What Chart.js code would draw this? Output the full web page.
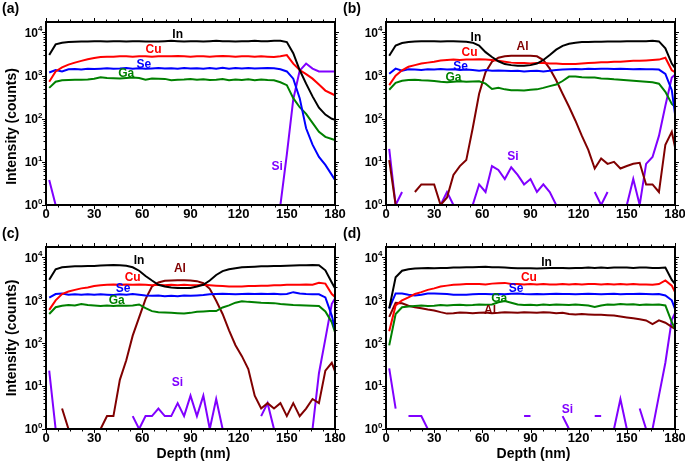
<!DOCTYPE html>
<html>
<head>
<meta charset="utf-8">
<script src="https://cdn.jsdelivr.net/npm/chart.js@4.4.1/dist/chart.umd.min.js"></script>
<style>
  body { margin: 0; background: #fff; }
  #wrap { position: relative; width: 685px; height: 466px; overflow: hidden; }
  #wrap canvas { position: absolute; }
</style>
</head>
<body>
<div id="wrap">
  <canvas id="pa" width="352" height="225" style="left:0;top:0"></canvas>
  <canvas id="pb" width="343" height="225" style="left:342px;top:0"></canvas>
  <canvas id="pc" width="352" height="241" style="left:0;top:225px"></canvas>
  <canvas id="pd" width="343" height="241" style="left:342px;top:225px"></canvas>
</div>
<script>
/* ---- data (counts vs depth in nm) ---- */
const _ = null;   // zero counts -> gap on the log axis

const depth = [2,6,10,14,18,22,26,30,34,38,
  42,46,50,54,58,62,66,70,74,78,
  82,86,90,94,98,102,106,110,114,118,
  122,126,130,134,138,142,146,150,154,158,
  162,166,170,174,178,180];

const xTicks = [0, 30, 60, 90, 120, 150, 180];
const yDecades = [0, 1, 2, 3, 4];

// (a)
const aIn = [3000,5300,5800,6000,6100,6200,6200,6300,6300,6200,
  6300,6300,6200,6300,6300,6200,6200,6200,6300,6400,
  6300,6200,6300,6300,6200,6300,6400,6300,6300,6200,
  6300,6300,6400,6300,6300,6400,6400,6000,3300,1350,
  650,330,180,125,100,95];
const aCu = [720,1250,1550,1800,2000,2200,2400,2550,2700,2750,
  2750,2800,2800,2750,2800,2800,2750,2800,2800,2800,
  2850,2800,2750,2800,2800,2750,2800,2850,2800,2750,
  2800,2800,2750,2800,2750,2700,2800,3000,1900,1350,
  1080,850,620,450,380,350];
const aSe = [1180,1350,1250,1400,1420,1380,1450,1420,1450,1480,
  1450,1460,1500,1450,1480,1450,1470,1500,1460,1480,
  1450,1500,1460,1480,1450,1500,1450,1520,1450,1500,
  1470,1500,1460,1480,1500,1480,1400,1250,850,300,
  60,25,13,8.5,5,3.8];
const aGa = [520,720,780,790,800,800,810,850,920,880,
  870,860,880,900,880,800,860,850,840,780,
  800,810,830,800,820,790,800,830,780,810,
  790,820,780,810,790,780,700,600,300,185,
  130,80,50,38,34,32];
const aSi = [3.8,1,_,_,_,_,_,_,_,_,
  _,_,_,_,_,_,_,_,_,_,
  _,_,_,_,_,_,_,_,_,_,
  _,_,_,_,_,_,1,15,280,1300,
  1900,1450,1250,1250,1250,1250];

// (b)
const bIn = [2900,5000,5700,6000,6200,6300,6300,6300,6200,6300,
  6300,6200,6100,5800,5000,3500,2700,2150,1850,1750,
  1700,1700,1750,1900,2300,3000,4000,4900,5500,5800,
  6000,6000,6100,6100,6200,6200,6200,6300,6300,6300,
  6300,6400,6200,4300,1900,1500];
const bCu = [600,1000,1330,1600,1750,1900,2000,2100,2250,2300,
  2350,2300,2350,2350,2400,2350,2300,2200,2100,2000,
  1950,1950,1900,1950,1950,1900,1900,1850,1850,1850,
  1900,1950,2000,2050,2050,2100,2100,2150,2200,2200,
  2250,2300,2350,2600,1330,1200];
const bSe = [1100,1450,1300,1400,1380,1350,1400,1380,1420,1380,
  1400,1350,1380,1350,1300,1350,1300,1320,1300,1280,
  1300,1250,1280,1300,1250,1300,1350,1380,1400,1420,
  1400,1450,1420,1450,1450,1420,1450,1420,1400,1420,
  1400,1400,1380,1100,460,130];
const bGa = [470,680,760,790,800,780,770,750,720,700,
  720,740,720,730,740,650,490,520,480,460,
  460,450,470,480,520,570,620,750,950,950,
  920,900,900,860,850,820,800,780,760,740,
  720,700,650,420,220,190];
const bAl = [11,1,_,_,2,3,3,3,1,1.5,
  5,8,11,60,380,1200,2100,2600,2800,2900,
  2900,2900,2900,2800,2300,1450,780,380,190,90,
  40,19,7,12,9,10,7,8,9,9.5,
  3,3,2,25,50,22];
const bSi = [20,1,2,_,_,_,_,_,1,2,
  1,_,_,1,3,2,8,6.5,4,7.5,
  5,3,4,2,3,2,1,_,_,_,
  _,_,2,1,2,_,_,1,4,1,
  9,13,40,200,900,1050];

// (c)
const cIn = [3000,5300,5900,6100,6200,6200,6300,6300,6500,6600,
  6700,6600,6400,5900,4900,3700,2900,2300,2100,2000,
  1950,1950,1950,2100,2300,2900,3900,4800,5300,5600,
  5900,6000,6100,6200,6200,6300,6300,6400,6500,6600,
  6600,6700,6600,5000,2600,1900];
const cCu = [600,1000,1400,1600,1750,1900,2000,2150,2250,2300,
  2350,2300,2350,2300,2350,2300,2250,2300,2250,2300,
  2250,2300,2250,2250,2300,2250,2200,2150,2100,2100,
  2100,2150,2150,2200,2200,2250,2250,2300,2300,2300,
  2350,2300,2550,2450,1400,1200];
const cSe = [1150,1400,1450,1350,1380,1350,1380,1350,1380,1350,
  1330,1380,1350,1400,1350,1300,1280,1300,1250,1280,
  1250,1300,1280,1300,1330,1380,1400,1420,1400,1380,
  1400,1420,1400,1420,1400,1420,1380,1400,1550,1450,
  1400,1380,1380,1170,440,215];
const cGa = [480,690,750,780,760,820,780,760,740,760,
  740,760,750,760,800,660,560,530,520,510,
  500,490,510,540,550,560,560,680,760,880,
  950,920,900,880,870,860,820,800,780,770,
  760,750,740,550,310,180];
const cAl = [_,_,3,1,1,1,1,1,1,2,
  2,14,40,150,400,1070,2100,2600,2850,2900,
  2950,2950,2900,2800,2500,1850,980,480,200,90,
  50,25,6,3,4,3,4,2,4,2,
  3,5,4,23,35,22];
const cSi = [23,1,_,_,_,_,_,_,_,_,
  _,_,_,2,1,2,2,3,2,2,
  4,2,6,2,6,1,5,1,_,_,
  _,_,_,2,4,1,_,1,1,1,
  1,1,20,126,830,1100];

// (d)
const dIn = [650,3450,4900,5300,5500,5600,5650,5600,5650,5700,
  5800,5800,5900,5900,6000,6100,5900,5900,5800,5700,
  5600,5600,5600,5500,5600,5700,5700,5700,5600,5700,
  5700,5800,5700,5800,5700,5800,5800,5800,5700,5800,
  5800,5700,5700,5800,3000,2400];
const dCu = [190,760,1000,1170,1400,1550,1750,1900,2100,2200,
  2300,2350,2400,2400,2400,2350,2450,2500,2550,2400,
  2400,2350,2400,2350,2400,2350,2350,2400,2350,2400,
  2350,2400,2400,2350,2400,2350,2400,2350,2400,2350,
  2350,2300,2400,2900,2200,1550];
const dSe = [650,1450,1450,1350,1300,1350,1450,1450,1420,1400,
  1350,1350,1350,1380,1400,1400,1380,1400,1380,1420,
  1450,1400,1380,1400,1380,1400,1420,1400,1400,1380,
  1400,1420,1400,1380,1400,1420,1380,1400,1400,1420,
  1400,1380,1400,1300,1000,630];
const dGa = [89,480,690,720,740,760,740,750,780,760,
  780,790,770,780,800,790,800,900,960,880,
  800,780,790,770,800,780,800,790,780,800,
  780,760,700,760,800,790,820,800,810,780,
  800,790,800,760,310,215];
const dAl = [410,870,850,750,690,650,610,580,530,490,
  500,520,510,500,510,520,500,510,530,520,
  510,530,520,510,530,520,500,510,480,470,
  480,470,460,460,450,440,420,400,380,360,
  340,280,340,300,240,215];
const dSi = [26,3,_,2,2,2,1,1,_,_,
  1,1,_,_,_,_,_,1,1,_,
  _,2,2,_,_,_,_,2,1,_,
  _,_,2,2,_,1,5,1,_,3,
  1,1,6,35,350,500];

/* ---- styling ---- */
const COLORS = { In: '#000000', Cu: '#ff0000', Se: '#0000ff', Ga: '#008000', Al: '#800000', Si: '#8000ff' };
const FONT = "'Liberation Sans', Arial, Helvetica, sans-serif";
const Y_MAX = 17500;

const pts = (arr) => depth.map((d, i) => ({ x: d, y: arr[i] }));

// frame, ticks, tick labels, titles and in-plot element labels
const framePlugin = {
  id: 'frame',
  afterDraw(chart, args, o) {
    const { ctx, chartArea: a } = chart;
    const x = chart.scales.x, y = chart.scales.y;
    ctx.save();

    // element labels next to the curves
    ctx.font = 'bold 12px ' + FONT;
    ctx.textAlign = 'center';
    ctx.textBaseline = 'middle';
    o.labels.forEach(([txt, dx, dy]) => {
      ctx.fillStyle = COLORS[txt];
      ctx.fillText(txt, x.getPixelForValue(dx), y.getPixelForValue(dy));
    });

    // box
    ctx.strokeStyle = '#000';
    ctx.lineWidth = 2;
    ctx.strokeRect(a.left, a.top, a.right - a.left, a.bottom - a.top);

    // ticks
    ctx.lineWidth = 1;
    ctx.beginPath();
    for (let v = 0; v <= 180; v += 7.5) {
      const px = Math.round(x.getPixelForValue(v)) + 0.5;
      const len = v % 30 === 0 ? 4 : 2.5;
      ctx.moveTo(px, a.bottom); ctx.lineTo(px, a.bottom + len);
      ctx.moveTo(px, a.top); ctx.lineTo(px, a.top - len);
    }
    yDecades.forEach(e => {
      for (let m = 1; m <= 9; m++) {
        const v = m * Math.pow(10, e);
        if (v > Y_MAX) break;
        const py = Math.round(y.getPixelForValue(v)) + 0.5;
        const len = m === 1 ? 4 : 2.5;
        ctx.moveTo(a.left, py); ctx.lineTo(a.left - len, py);
        ctx.moveTo(a.right, py); ctx.lineTo(a.right + len, py);
      }
    });
    ctx.stroke();

    // tick labels
    ctx.fillStyle = '#000';
    ctx.font = 'bold 13px ' + FONT;
    ctx.textAlign = 'center';
    ctx.textBaseline = 'top';
    xTicks.forEach(v => ctx.fillText(String(v), x.getPixelForValue(v), a.bottom + 3));

    yDecades.forEach(e => {
      const py = y.getPixelForValue(Math.pow(10, e));
      ctx.font = 'bold 12px ' + FONT;
      ctx.textAlign = 'right';
      ctx.textBaseline = 'middle';
      ctx.fillText('10', a.left - 8, py + 1);
      ctx.font = 'bold 8px ' + FONT;
      ctx.textAlign = 'left';
      ctx.textBaseline = 'alphabetic';
      ctx.fillText(String(e), a.left - 8, py - 1);
    });

    // axis titles
    ctx.font = 'bold 14px ' + FONT;
    ctx.textAlign = 'center';
    ctx.textBaseline = 'middle';
    if (o.yTitle) {
      ctx.save();
      ctx.translate(12, (a.top + a.bottom) / 2 + o.yTitleShift);
      ctx.rotate(-Math.PI / 2);
      ctx.fillText('Intensity (counts)', 0, 0);
      ctx.restore();
    }
    if (o.xTitle) {
      ctx.fillText('Depth (nm)', (a.left + a.right) / 2 + 3, a.bottom + 25);
    }

    // panel tag
    ctx.font = 'bold 14px ' + FONT;
    ctx.textAlign = 'left';
    ctx.fillText(o.tag, o.tagX, 9);
    ctx.restore();
  }
};

function makePanel(id, padding, series, opts) {
  const datasets = series.map(([name, arr]) => ({
    label: name,
    data: pts(arr),
    borderColor: COLORS[name],
    borderWidth: 2,
    pointRadius: 0,
    tension: 0,
    spanGaps: false,
    fill: false
  }));

  new Chart(document.getElementById(id), {
    type: 'line',
    data: { datasets },
    options: {
      responsive: false,
      animation: false,
      layout: { padding },
      scales: {
        x: { type: 'linear', min: 0, max: 180, display: false },
        y: { type: 'logarithmic', min: 1, max: Y_MAX, display: false }
      },
      plugins: {
        legend: { display: false },
        tooltip: { enabled: false },
        frame: opts
      }
    },
    plugins: [framePlugin]
  });
}

makePanel('pa', { left: 46, top: 22, right: 17, bottom: 20 },
  [['In', aIn], ['Cu', aCu], ['Se', aSe], ['Ga', aGa], ['Si', aSi]],
  { tag: '(a)', tagX: 2, yTitle: true, yTitleShift: 13, xTitle: false,
    labels: [['In', 82, 8700], ['Cu', 67, 3900], ['Se', 61, 1830], ['Ga', 50, 1080], ['Si', 144, 7.6]] });

makePanel('pb', { left: 44, top: 22, right: 10, bottom: 20 },
  [['In', bIn], ['Cu', bCu], ['Se', bSe], ['Ga', bGa], ['Al', bAl], ['Si', bSi]],
  { tag: '(b)', tagX: 1, yTitle: false, xTitle: false,
    labels: [['In', 56, 7400], ['Al', 85, 4600], ['Cu', 52, 3370], ['Se', 46.5, 1650], ['Ga', 42, 910], ['Si', 79, 13]] });

makePanel('pc', { left: 46, top: 22, right: 17, bottom: 37 },
  [['In', cIn], ['Cu', cCu], ['Se', cSe], ['Ga', cGa], ['Al', cAl], ['Si', cSi]],
  { tag: '(c)', tagX: 2, yTitle: true, yTitleShift: 0, xTitle: true,
    labels: [['In', 58, 8300], ['Al', 83.4, 5350], ['Cu', 54, 3400], ['Se', 48, 1830], ['Ga', 44, 970], ['Si', 81.8, 12]] });

makePanel('pd', { left: 44, top: 22, right: 10, bottom: 37 },
  [['In', dIn], ['Cu', dCu], ['Se', dSe], ['Ga', dGa], ['Al', dAl], ['Si', dSi]],
  { tag: '(d)', tagX: 1, yTitle: false, xTitle: true,
    labels: [['In', 100, 7600], ['Cu', 89, 3400], ['Se', 81, 1830], ['Ga', 70.5, 1070], ['Al', 64.8, 575], ['Si', 113, 2.75]] });
</script>
</body>
</html>
